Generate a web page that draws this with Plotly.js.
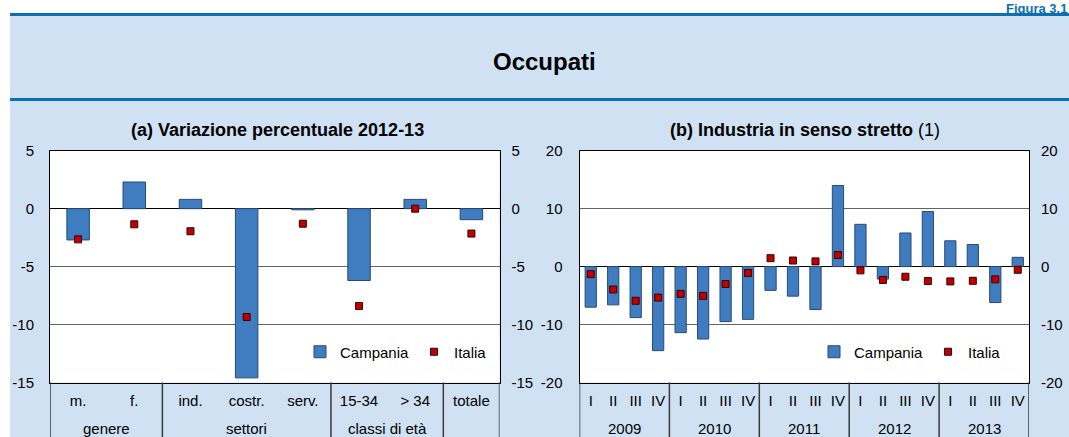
<!DOCTYPE html>
<html>
<head>
<meta charset="utf-8">
<script src="https://cdn.plot.ly/plotly-3.0.1.min.js"></script>
<style>html,body{margin:0;padding:0;background:#fff;}#chart{width:1069px;height:437px;}</style>
</head>
<body>
<div id="chart"></div>
<script>
// ---- data ----
const catsA = ['m.', 'f.', 'ind.', 'costr.', 'serv.', '15-34', '> 34', 'totale'];
const groupsA = ['genere', 'settori', 'classi di età'];
const groupCentersA = [0.5, 3, 5.5];
const dividersA = [1.5, 4.5, 6.5];
const campaniaA = [-2.7, 2.3, 0.8, -14.6, -0.1, -6.2, 0.8, -0.95];
const italiaA = [-2.65, -1.35, -1.95, -9.35, -1.3, -8.4, 0.0, -2.15];

const quarters = ['I', 'II', 'III', 'IV'];
const years = ['2009', '2010', '2011', '2012', '2013'];
const campaniaB = [-7.0, -6.6, -8.8, -14.5, -11.4, -12.5, -9.5, -9.1, -4.1, -5.1, -7.4, 14.0, 7.3, -2.15, 5.8, 9.5, 4.45, 3.8, -6.2, 1.6];
const italiaB = [-1.3, -3.95, -5.9, -5.35, -4.7, -5.05, -3.0, -1.1, 1.45, 1.05, 0.9, 2.0, -0.65, -2.3, -1.75, -2.5, -2.55, -2.45, -2.2, -0.55];

const yTicksA = [-15, -10, -5, 0, 5];
const yTickTextA = ['-15', '-10', '-5', '0', '5'];
const yTicksB = [-20, -10, 0, 10, 20];
const yTickTextB = ['-20', '-10', '0', '10', '20'];

// ---- derived ----
const xA = catsA.map((_, i) => i);
const qLabels = [];
years.forEach(() => quarters.forEach(q => qLabels.push(q)));
const xB = qLabels.map((_, i) => i);
const yearCenters = years.map((_, i) => i * quarters.length + (quarters.length - 1) / 2);
const dividersB = years.slice(1).map((_, i) => (i + 1) * quarters.length - 0.5);

const W = 1069, H = 437;
const px = v => v / W, py = v => 1 - v / H;
const FONT = 'Liberation Sans, Arial, sans-serif';
const BLUE_BAR = '#3f7dc0', BAR_LINE = '#284a73';
const RED = '#c00000';
const LIGHT = '#cfe1f2';
const HEAD_BLUE = '#0b6fb3';

const yDom = [py(382.5), py(150.7)];
const xDomA = [px(50), px(499.5)];
const xDomB = [px(579.5), px(1029)];

const traces = [
  {type: 'bar', x: xA, y: campaniaA, xaxis: 'x', yaxis: 'y', name: 'Campania', width: 0.4,
   marker: {color: BLUE_BAR, line: {color: BAR_LINE, width: 1}}, legend: 'legend'},
  {type: 'scatter', mode: 'markers', x: xA, y: italiaA, xaxis: 'x', yaxis: 'y3', name: 'Italia',
   marker: {symbol: 'square', size: 7, color: RED, line: {color: '#3a0000', width: 1}}, legend: 'legend'},
  {type: 'bar', x: xB, y: campaniaB, xaxis: 'x2', yaxis: 'y2', name: 'Campania', width: 0.5,
   marker: {color: BLUE_BAR, line: {color: BAR_LINE, width: 1}}, legend: 'legend2'},
  {type: 'scatter', mode: 'markers', x: xB, y: italiaB, xaxis: 'x2', yaxis: 'y4', name: 'Italia',
   marker: {symbol: 'square', size: 7, color: RED, line: {color: '#3a0000', width: 1}}, legend: 'legend2'}
];

const tickFont = {family: FONT, size: 15, color: '#000'};
const catFont = {family: FONT, size: 15, color: '#000'};

function xAxis(domain, anchor, range, vals, text) {
  return {domain: domain, anchor: anchor, range: range, tickvals: vals, ticktext: text,
    ticks: '', showgrid: false, zeroline: false, showline: true, mirror: true,
    linecolor: '#000', linewidth: 1, tickfont: catFont, ticklabelstandoff: 4, fixedrange: true};
}
function yAxis(anchor, range, vals, text, side, overlay, standoff) {
  const a = {anchor: anchor, range: range, tickvals: vals, ticktext: text, ticks: '', side: side,
    tickfont: tickFont, ticklabelstandoff: standoff, fixedrange: true};
  if (overlay) {
    a.overlaying = overlay; a.showgrid = false; a.zeroline = false; a.showline = false;
  } else {
    a.domain = yDom; a.showgrid = true; a.gridcolor = '#646464'; a.gridwidth = 1;
    a.zeroline = true; a.zerolinecolor = '#000'; a.zerolinewidth = 1;
    a.showline = true; a.mirror = true; a.linecolor = '#000'; a.linewidth = 1;
  }
  return a;
}

const shapes = [
  {type: 'rect', xref: 'paper', yref: 'paper', x0: 0, x1: 1, y0: py(13), y1: 1.01, fillcolor: '#fff', line: {width: 0}, layer: 'below'},
  {type: 'rect', xref: 'paper', yref: 'paper', x0: -0.01, x1: px(10), y0: -0.01, y1: 1.01, fillcolor: '#fff', line: {width: 0}, layer: 'below'},
  {type: 'line', xref: 'paper', yref: 'paper', x0: px(10), x1: 1.01, y0: py(14.5), y1: py(14.5), line: {color: HEAD_BLUE, width: 3}},
  {type: 'line', xref: 'paper', yref: 'paper', x0: px(10), x1: 1.01, y0: py(99.5), y1: py(99.5), line: {color: HEAD_BLUE, width: 3}}
];
const divColor = '#3a3a3a';
[-0.5].concat(dividersA, [catsA.length - 0.5]).forEach(d => shapes.push(
  {type: 'line', xref: 'x', yref: 'paper', x0: d, x1: d, y0: -0.01, y1: yDom[0], line: {color: divColor, width: 1.5}}));
[-0.5].concat(dividersB, [qLabels.length - 0.5]).forEach(d => shapes.push(
  {type: 'line', xref: 'x2', yref: 'paper', x0: d, x1: d, y0: -0.01, y1: yDom[0], line: {color: divColor, width: 1.5}}));

const annotations = [
  {xref: 'paper', yref: 'paper', x: px(544), y: py(61), text: '<b>Occupati</b>', showarrow: false,
   xanchor: 'center', yanchor: 'middle', font: {family: FONT, size: 24, color: '#000'}},
  {xref: 'paper', yref: 'paper', x: px(1068), y: 1, text: '<b>Figura 3.1</b>', showarrow: false,
   xanchor: 'right', yanchor: 'top', borderpad: 0, font: {family: FONT, size: 13, color: HEAD_BLUE}},
  {xref: 'paper', yref: 'paper', x: px(277), y: py(130), text: '<b>(a) Variazione percentuale 2012-13</b>', showarrow: false,
   xanchor: 'center', yanchor: 'middle', font: {family: FONT, size: 18, color: '#000'}},
  {xref: 'paper', yref: 'paper', x: px(805), y: py(130), text: '<b>(b) Industria in senso stretto</b> (1)', showarrow: false,
   xanchor: 'center', yanchor: 'middle', font: {family: FONT, size: 18, color: '#000'}}
];
groupsA.forEach((g, i) => annotations.push({xref: 'x', yref: 'paper', x: groupCentersA[i], y: py(428), text: g,
  showarrow: false, xanchor: 'center', yanchor: 'middle', font: catFont}));
years.forEach((yv, i) => annotations.push({xref: 'x2', yref: 'paper', x: yearCenters[i], y: py(428), text: yv,
  showarrow: false, xanchor: 'center', yanchor: 'middle', font: catFont}));

const legendBase = {orientation: 'h', yanchor: 'middle', xanchor: 'right', bgcolor: 'rgba(0,0,0,0)',
  font: {family: FONT, size: 15, color: '#000'}, itemwidth: 30, tracegroupgap: 0};

const layout = {
  width: W, height: H, margin: {l: 0, r: 0, t: 0, b: 0, autoexpand: false},
  paper_bgcolor: LIGHT, plot_bgcolor: '#fff', showlegend: true, barmode: 'overlay',
  font: {family: FONT},
  xaxis: xAxis(xDomA, 'y', [-0.5, catsA.length - 0.5], xA, catsA),
  xaxis2: xAxis(xDomB, 'y2', [-0.5, qLabels.length - 0.5], xB, qLabels),
  yaxis: yAxis('x', [-15, 5], yTicksA, yTickTextA, 'left', null, 12),
  yaxis3: yAxis('x', [-15, 5], yTicksA, yTickTextA, 'right', 'y', 11),
  yaxis2: yAxis('x2', [-20, 20], yTicksB, yTickTextB, 'left', null, 13),
  yaxis4: yAxis('x2', [-20, 20], yTicksB, yTickTextB, 'right', 'y2', 11),
  legend: Object.assign({}, legendBase, {x: px(492), y: py(352)}),
  legend2: Object.assign({}, legendBase, {x: px(1006), y: py(352)}),
  shapes: shapes, annotations: annotations
};

Plotly.newPlot('chart', traces, layout, {displayModeBar: false, staticPlot: true});
</script>
</body>
</html>
